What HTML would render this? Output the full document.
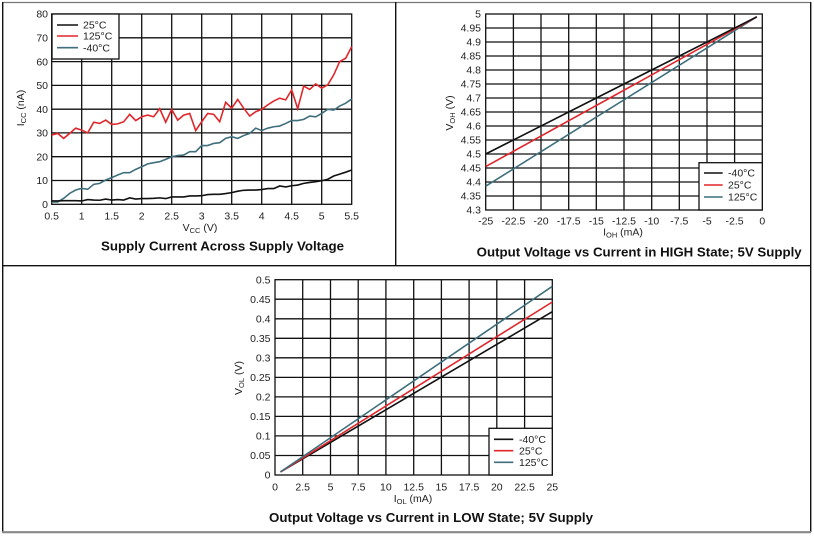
<!DOCTYPE html>
<html><head><meta charset="utf-8"><style>
html,body{margin:0;padding:0;background:#fff;}
svg{display:block;font-family:"Liberation Sans",Arial,sans-serif;}
.t{font-size:10.5px;fill:#222;}
.ttl{font-size:12.5px;font-weight:bold;fill:#111;}
.g{stroke:#111;stroke-width:1.3;fill:none;}
.sub{font-size:7.5px;}
</style></head><body>
<svg width="814" height="536" viewBox="0 0 814 536" xmlns="http://www.w3.org/2000/svg">
<rect width="814" height="536" fill="#fff"/>
<!-- outer frame -->
<line x1="2" y1="2.5" x2="811" y2="2.5" stroke="#777" stroke-width="1.3"/>
<line x1="2.7" y1="2" x2="2.7" y2="532" stroke="#111" stroke-width="1.4"/>
<line x1="810.7" y1="2" x2="810.7" y2="532" stroke="#111" stroke-width="1.4"/>
<line x1="2" y1="532.2" x2="811" y2="532.2" stroke="#888" stroke-width="2.2"/>
<line x1="2" y1="265.7" x2="811" y2="265.7" stroke="#111" stroke-width="1.4"/>
<line x1="395.7" y1="2" x2="395.7" y2="266" stroke="#111" stroke-width="1.4"/>

<!-- ============ CHART 1 ============ -->
<g class="g">
<rect x="51.7" y="14" width="300" height="190.3"/>
<path d="M81.7 14V204.3M111.7 14V204.3M141.7 14V204.3M171.7 14V204.3M201.7 14V204.3M231.7 14V204.3M261.7 14V204.3M291.7 14V204.3M321.7 14V204.3"/>
<path d="M51.7 37.8H351.7M51.7 61.6H351.7M51.7 85.4H351.7M51.7 109.2H351.7M51.7 132.9H351.7M51.7 156.7H351.7M51.7 180.5H351.7"/>
</g>
<svg x="51.7" y="14" width="300" height="190.3" viewBox="0 0 50 80" preserveAspectRatio="none" overflow="visible">
<polyline fill="none" stroke="#3f6e7d" stroke-width="1.6" vector-effect="non-scaling-stroke" points="0,79 1,79 2,77.5 3,75.4 4,74 5,73.3 6,73.7 7,71.6 8,71.2 9,69.8 10,68.8 11,67.7 12,66.7 13,66.7 14,65.3 15,64.2 16,63 17,62.5 18,62.1 19,61.1 20,60 21,59.5 22,59.3 23,57.9 24,57.9 25,55.3 26,55.3 27,54.4 28,54.1 29,52.3 30,51.6 31,52.3 32,51.1 33,50.2 34,48 35,49 36,48 37,47.4 38,47.1 39,46 40,44.8 41,44.8 42,44.3 43,42.9 44,43.2 45,41.8 46,40.1 47,40.4 48,38.7 49,37.5 50,35.7"/>
<polyline fill="none" stroke="#111" stroke-width="1.6" vector-effect="non-scaling-stroke" points="0,78.6 1,78.6 2,78.5 3,78.5 4,78.5 5,78.6 6,78 7,78.2 8,78.3 9,77.8 10,78.2 11,78 12,78.2 13,77.3 14,77.8 15,77.6 16,77.6 17,77.5 18,77.3 19,77.6 20,76.9 21,76.9 22,76.9 23,76.5 24,76.5 25,76.4 26,75.9 27,75.8 28,75.8 29,75.5 30,75.1 31,74.5 32,74.1 33,74 34,74 35,73.8 36,73.4 37,73.4 38,72.3 39,72.7 40,72.2 41,71.9 42,71.2 43,70.8 44,70.5 45,70.1 46,69.5 47,68.1 48,67.3 49,66.5 50,65.6"/>
<polyline fill="none" stroke="#e0262a" stroke-width="1.6" vector-effect="non-scaling-stroke" points="0,50.9 1,50.2 2,52.3 3,50.2 4,48 5,48.8 6,50 7,45.5 8,46 9,44.6 10,46.4 11,46.2 12,45.3 13,42.2 14,44.8 15,43.2 16,42.5 17,43.2 18,39.8 19,45.5 20,40.1 21,44.6 22,42.5 23,41.8 24,49 25,45.3 26,41.8 27,42.2 28,45.3 29,37.1 30,39.6 31,35.9 32,39.6 33,42.9 34,41.1 35,40.1 36,38.2 37,36.6 38,35.4 39,36.1 40,31.9 41,39.8 42,30.3 43,31.7 44,29.4 45,31.2 46,29.8 47,25.6 48,20 49,18.6 50,13.7"/>
</svg>
<!-- legend 1 -->
<rect x="52" y="14" width="67" height="45" fill="#fff" stroke="#111" stroke-width="1.3"/>
<line x1="57" y1="25" x2="78" y2="25" stroke="#111" stroke-width="1.6"/>
<line x1="57" y1="36" x2="78" y2="36" stroke="#e0262a" stroke-width="1.6"/>
<line x1="57" y1="47.7" x2="78" y2="47.7" stroke="#3f6e7d" stroke-width="1.6"/>
<text class="t" x="83" y="28.7">25°C</text>
<text class="t" x="83" y="39.7">125°C</text>
<text class="t" x="83" y="51.4">-40°C</text>
<!-- y ticks -->
<g class="t" text-anchor="end">
<text x="48" y="17.7">80</text><text x="48" y="41.5">70</text><text x="48" y="65.3">60</text><text x="48" y="89.1">50</text><text x="48" y="112.9">40</text><text x="48" y="136.6">30</text><text x="48" y="160.4">20</text><text x="48" y="184.2">10</text><text x="48" y="208">0</text>
</g>
<g class="t" text-anchor="middle">
<text x="51.7" y="219.7">0.5</text><text x="81.7" y="219.7">1</text><text x="111.7" y="219.7">1.5</text><text x="141.7" y="219.7">2</text><text x="171.7" y="219.7">2.5</text><text x="201.7" y="219.7">3</text><text x="231.7" y="219.7">3.5</text><text x="261.7" y="219.7">4</text><text x="291.7" y="219.7">4.5</text><text x="321.7" y="219.7">5</text><text x="351.7" y="219.7">5.5</text>
</g>
<text class="t" x="200" y="231" text-anchor="middle">V<tspan class="sub" dy="2">CC</tspan><tspan dy="-2"> (V)</tspan></text>
<text class="t" transform="translate(24,108) rotate(-90)" text-anchor="middle">I<tspan class="sub" dy="2">CC</tspan><tspan dy="-2"> (nA)</tspan></text>
<text class="ttl" x="101" y="250.5" textLength="243" lengthAdjust="spacingAndGlyphs">Supply Current Across Supply Voltage</text>

<!-- ============ CHART 2 ============ -->
<g class="g">
<rect x="485.7" y="14" width="276.6" height="196"/>
<path d="M513.4 14V210M541 14V210M568.7 14V210M596.3 14V210M624 14V210M651.7 14V210M679.3 14V210M707 14V210M734.6 14V210"/>
<path d="M485.7 28H762.3M485.7 42H762.3M485.7 56H762.3M485.7 70H762.3M485.7 84H762.3M485.7 98H762.3M485.7 112H762.3M485.7 126H762.3M485.7 140H762.3M485.7 154H762.3M485.7 168H762.3M485.7 182H762.3M485.7 196H762.3"/>
</g>
<line x1="485.7" y1="186.2" x2="756.8" y2="16.8" stroke="#3f6e7d" stroke-width="1.6"/>
<line x1="485.7" y1="166.6" x2="756.8" y2="16.8" stroke="#e0262a" stroke-width="1.6"/>
<line x1="485.7" y1="154" x2="756.8" y2="16.8" stroke="#111" stroke-width="1.6"/>
<rect x="699" y="162.7" width="63.3" height="47.3" fill="#fff" stroke="#111" stroke-width="1.3"/>
<line x1="704" y1="173" x2="722.7" y2="173" stroke="#111" stroke-width="1.6"/>
<line x1="704" y1="185" x2="722.7" y2="185" stroke="#e0262a" stroke-width="1.6"/>
<line x1="704" y1="197" x2="722.7" y2="197" stroke="#3f6e7d" stroke-width="1.6"/>
<text class="t" x="728" y="176.7">-40°C</text>
<text class="t" x="728" y="188.7">25°C</text>
<text class="t" x="728" y="200.7">125°C</text>
<g class="t" text-anchor="end">
<text x="481" y="17.7">5</text><text x="481" y="31.7">4.95</text><text x="481" y="45.7">4.9</text><text x="481" y="59.7">4.85</text><text x="481" y="73.7">4.8</text><text x="481" y="87.7">4.75</text><text x="481" y="101.7">4.7</text><text x="481" y="115.7">4.65</text><text x="481" y="129.7">4.6</text><text x="481" y="143.7">4.55</text><text x="481" y="157.7">4.5</text><text x="481" y="171.7">4.45</text><text x="481" y="185.7">4.4</text><text x="481" y="199.7">4.35</text><text x="481" y="213.7">4.3</text>
</g>
<g class="t" text-anchor="middle">
<text x="485.7" y="224.7">-25</text><text x="513.4" y="224.7">-22.5</text><text x="541" y="224.7">-20</text><text x="568.7" y="224.7">-17.5</text><text x="596.3" y="224.7">-15</text><text x="624" y="224.7">-12.5</text><text x="651.7" y="224.7">-10</text><text x="679.3" y="224.7">-7.5</text><text x="707" y="224.7">-5</text><text x="734.6" y="224.7">-2.5</text><text x="762.3" y="224.7">0</text>
</g>
<text class="t" x="623" y="235.5" text-anchor="middle">I<tspan class="sub" dy="2">OH</tspan><tspan dy="-2"> (mA)</tspan></text>
<text class="t" transform="translate(453,113) rotate(-90)" text-anchor="middle">V<tspan class="sub" dy="2">OH</tspan><tspan dy="-2"> (V)</tspan></text>
<text class="ttl" x="476.7" y="256.5" textLength="325" lengthAdjust="spacingAndGlyphs">Output Voltage vs Current in HIGH State; 5V Supply</text>

<!-- ============ CHART 3 ============ -->
<g class="g">
<rect x="275" y="279.7" width="277.3" height="195.3"/>
<path d="M302.7 279.7V475M330.5 279.7V475M358.2 279.7V475M385.9 279.7V475M413.7 279.7V475M441.4 279.7V475M469.1 279.7V475M496.8 279.7V475M524.6 279.7V475"/>
<path d="M275 299.2H552.3M275 318.8H552.3M275 338.3H552.3M275 357.8H552.3M275 377.4H552.3M275 396.9H552.3M275 416.4H552.3M275 435.9H552.3M275 455.5H552.3"/>
</g>
<line x1="280.5" y1="471.9" x2="552.3" y2="311.7" stroke="#111" stroke-width="1.6"/>
<line x1="280.5" y1="471.9" x2="552.3" y2="302" stroke="#e0262a" stroke-width="1.6"/>
<line x1="280.5" y1="471.9" x2="552.3" y2="286.3" stroke="#3f6e7d" stroke-width="1.6"/>
<rect x="489" y="428.3" width="63.3" height="46.7" fill="#fff" stroke="#111" stroke-width="1.3"/>
<line x1="494" y1="439.3" x2="513.3" y2="439.3" stroke="#111" stroke-width="1.6"/>
<line x1="494" y1="450.7" x2="513.3" y2="450.7" stroke="#e0262a" stroke-width="1.6"/>
<line x1="494" y1="462.3" x2="513.3" y2="462.3" stroke="#3f6e7d" stroke-width="1.6"/>
<text class="t" x="519" y="443">-40°C</text>
<text class="t" x="519" y="454.4">25°C</text>
<text class="t" x="519" y="466">125°C</text>
<g class="t" text-anchor="end">
<text x="270.5" y="283.4">0.5</text><text x="270.5" y="302.9">0.45</text><text x="270.5" y="322.5">0.4</text><text x="270.5" y="342">0.35</text><text x="270.5" y="361.5">0.3</text><text x="270.5" y="381.1">0.25</text><text x="270.5" y="400.6">0.2</text><text x="270.5" y="420.1">0.15</text><text x="270.5" y="439.6">0.1</text><text x="270.5" y="459.2">0.05</text><text x="270.5" y="478.7">0</text>
</g>
<g class="t" text-anchor="middle">
<text x="275" y="490.4">0</text><text x="302.7" y="490.4">2.5</text><text x="330.5" y="490.4">5</text><text x="358.2" y="490.4">7.5</text><text x="385.9" y="490.4">10</text><text x="413.7" y="490.4">12.5</text><text x="441.4" y="490.4">15</text><text x="469.1" y="490.4">17.5</text><text x="496.8" y="490.4">20</text><text x="524.6" y="490.4">22.5</text><text x="552.3" y="490.4">25</text>
</g>
<text class="t" x="413" y="502" text-anchor="middle">I<tspan class="sub" dy="2">OL</tspan><tspan dy="-2"> (mA)</tspan></text>
<text class="t" transform="translate(242,378) rotate(-90)" text-anchor="middle">V<tspan class="sub" dy="2">OL</tspan><tspan dy="-2"> (V)</tspan></text>
<text class="ttl" x="269" y="521.8" textLength="324" lengthAdjust="spacingAndGlyphs">Output Voltage vs Current in LOW State; 5V Supply</text>
</svg>
</body></html>
